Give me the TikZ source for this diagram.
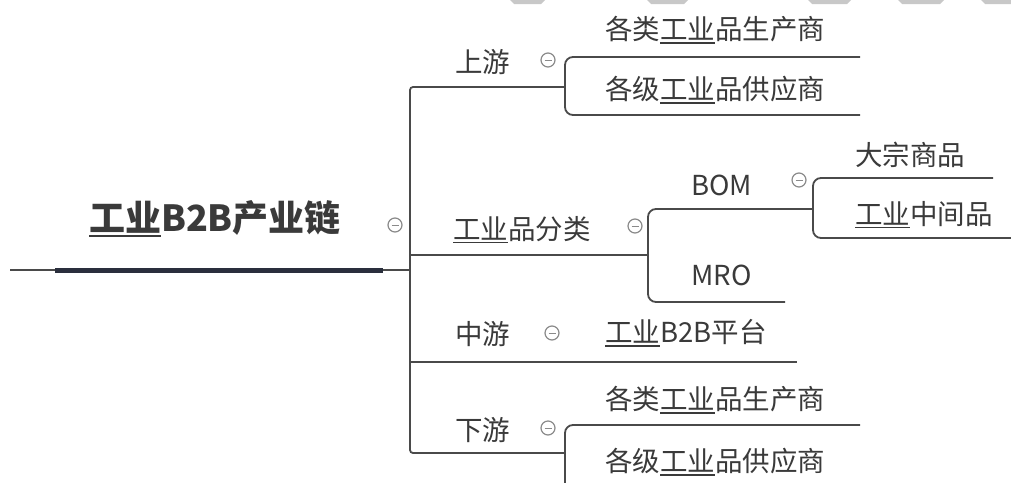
\documentclass[tikz,border=0pt]{standalone}
\usepackage{fontspec}
\setmainfont{Noto Sans CJK SC}
\definecolor{txt}{HTML}{3A3A3A}
\definecolor{ln}{HTML}{4A4A4A}
\definecolor{fd}{HTML}{8A8A8A}
\definecolor{bar}{HTML}{2A2F3D}
\definecolor{wm}{HTML}{C8C8C8}
\newcommand{\gy}{{\setbox0\hbox{工业}\rlap{\rule[-0.14em]{\wd0}{0.06em}}\box0}}
\begin{document}
\begin{tikzpicture}[x=1pt,y=-1pt,
  lbl/.style={inner sep=0pt, font=\fontsize{27.5}{28}\selectfont, text=txt, anchor=west},
  conn/.style={draw=ln, line width=1.8pt, rounded corners=8pt},
  trunk/.style={draw=ln, line width=1.8pt, rounded corners=3pt},
  fold/.style={circle, draw=fd, line width=1.2pt, minimum size=14pt, inner sep=0pt,
    path picture={\draw[fd, line width=0.9pt] ([xshift=-3.5pt]path picture bounding box.center) -- ([xshift=3.5pt]path picture bounding box.center);}},
  wmark/.style={fill=wm, draw=none}
]
\useasboundingbox (0,0) rectangle (1011,482);
% watermark fragments
\foreach \a/\b in {510/545,647/688,808/851,898/944,981/1016}
  \fill[wmark] (\a,0) -- (\b,0) -- (\b-4,4) -- (\a+4,4) -- cycle;

% root
\node[inner sep=0pt, font=\fontsize{36}{36}\selectfont\bfseries, text=txt] (root) at (215,219) {\gy B2B产业链};
\coordinate (rootL) at (10,270);
\coordinate (barL) at (55,270);
\coordinate (barR) at (383,270);
\coordinate (trunkM) at (410,270);
\node[fold] (frt) at (395,225) {};
\draw[ln, line width=1.4pt] (rootL) -- (trunkM);
\draw[bar, line width=5pt] (barL) -- (barR);

% level 1 labels
\node[lbl] (up) at (455,62) {上游};
\node[lbl] (cat) at (453,230) {\gy 品分类};
\node[lbl] (mid) at (455,334) {中游};
\node[lbl] (down) at (455,430) {下游};
\node[fold] (fup) at (548,60) {};
\node[fold] (fcat) at (635,226) {};
\node[fold] (fmid) at (552,333) {};
\node[fold] (fdown) at (548,428) {};

% junction coordinates
\coordinate (tTop) at (410,87);
\coordinate (tBot) at (410,453);
\coordinate (upJ) at (565,87);
\coordinate (catL) at (410,255);
\coordinate (catJ) at (648,255);
\coordinate (midL) at (410,362);
\coordinate (midR) at (797,362);
\coordinate (downJ) at (565,453);

\draw[trunk] (upJ) -- (tTop) -- (tBot) -- (downJ);
\draw[ln, line width=1.8pt] (catL) -- (catJ);
\draw[ln, line width=1.8pt] (midL) -- (midR);

% upstream children
\node[lbl] (u1) at (605,30) {各类\gy 品生产商};
\node[lbl] (u2) at (605,90) {各级\gy 品供应商};
\coordinate (u1R) at (860,57);
\coordinate (u2R) at (860,115);
\draw[conn] (u1R) -- (upJ |- u1R) -- (upJ |- u2R) -- (u2R);

% category children
\node[lbl] (bom) at (691,185) {BOM};
\node[lbl] (mro) at (691,275) {MRO};
\node[fold] (fbom) at (799,180) {};
\coordinate (bomR) at (813,209);
\coordinate (mroR) at (785,302);
\draw[conn] (bomR) -- (catJ |- bomR) -- (catJ |- mroR) -- (mroR);

% BOM children
\node[lbl] (b1) at (855,155) {大宗商品};
\node[lbl] (b2) at (855,215) {\gy 中间品};
\coordinate (b1R) at (993,178);
\coordinate (b2R) at (1011,238);
\draw[conn] (b1R) -- (bomR |- b1R) -- (bomR |- b2R) -- (b2R);

% midstream child
\node[lbl] (m1) at (605,333) {\gy B2B平台};

% downstream children
\node[lbl] (d1) at (605,400) {各类\gy 品生产商};
\node[lbl] (d2) at (605,462) {各级\gy 品供应商};
\coordinate (d1R) at (860,425);
\coordinate (d2R) at (860,500);
\draw[conn] (d1R) -- (downJ |- d1R) -- (downJ |- d2R) -- (d2R);
\end{tikzpicture}
\end{document}
